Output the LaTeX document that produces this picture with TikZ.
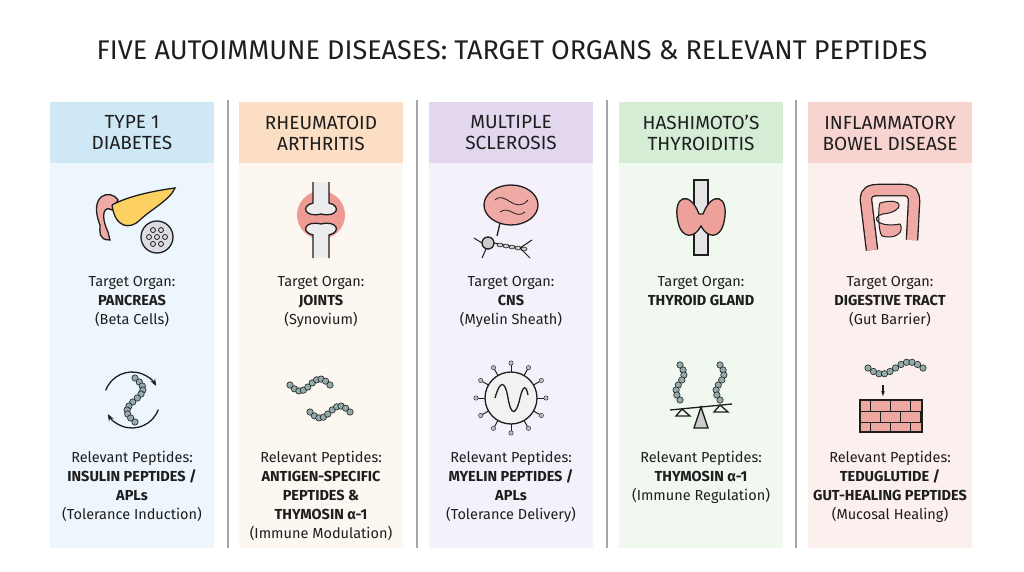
\documentclass[tikz,border=0pt]{standalone}
\usepackage{fontspec}
\setmainfont{Fira Sans}
\usetikzlibrary{arrows.meta}
\definecolor{hA}{RGB}{207,232,245}\definecolor{bA}{RGB}{237,246,252}
\definecolor{hB}{RGB}{251,222,195}\definecolor{bB}{RGB}{252,247,240}
\definecolor{hC}{RGB}{226,215,238}\definecolor{bC}{RGB}{245,241,250}
\definecolor{hD}{RGB}{213,236,213}\definecolor{bD}{RGB}{240,248,240}
\definecolor{hE}{RGB}{248,212,208}\definecolor{bE}{RGB}{252,240,238}
\definecolor{ink}{RGB}{30,30,30}
\definecolor{flesh}{RGB}{232,130,120}
\definecolor{pink}{RGB}{240,170,165}
\definecolor{bead}{RGB}{120,150,150}
\tikzset{
 hdr/.style={font=\fontsize{19}{21}\selectfont, align=center, text=ink},
 txt/.style={font=\fontsize{14.5}{19}\selectfont, align=center, text=ink},
 sep/.style={draw=gray!70, line width=1.2pt},
 ol/.style={draw=ink, line width=1.3pt},
}
\newcommand{\chain}[6]{% x y length amplitude periods n
 \foreach \i in {0,...,#6}{
  \pgfmathsetmacro{\px}{#1+#3*\i/#6}
  \pgfmathsetmacro{\py}{#2+#4*sin(360*#5*\i/#6)}
  \fill[bead!80, draw=ink, line width=0.6pt] (\px,\py) circle (3.2);
 }}
\newcommand{\vchain}[6]{% x y length amplitude periods n (vertical)
 \foreach \i in {0,...,#6}{
  \pgfmathsetmacro{\py}{#2+#3*\i/#6}
  \pgfmathsetmacro{\px}{#1+#4*sin(360*#5*\i/#6)}
  \fill[bead!80, draw=ink, line width=0.6pt] (\px,\py) circle (3.2);
 }}
\begin{document}
\begin{tikzpicture}[x=1pt,y=-1pt]
\useasboundingbox (0,0) rectangle (1024,572);
\fill[white] (0,0) rectangle (1024,572);
\node[font=\fontsize{27}{30}\selectfont, text=ink] (title) at (512,50) {FIVE AUTOIMMUNE DISEASES: TARGET ORGANS \& RELEVANT PEPTIDES};
\foreach \cx/\h/\b [count=\k] in {132/hA/bA,321/hB/bB,511/hC/bC,701/hD/bD,890/hE/bE}{
 \fill[\b] (\cx-82,102) rectangle (\cx+82,548);
 \fill[\h] (\cx-82,102) rectangle (\cx+82,163);
}
\foreach \x in {228,417,607,796}{\draw[sep] (\x,100) -- (\x,548);}
% headers
\node[hdr] (h1) at (132,133) {TYPE 1\\DIABETES};
\node[hdr] (h2) at (321,133) {RHEUMATOID\\ARTHRITIS};
\node[hdr] (h3) at (511,133) {MULTIPLE\\SCLEROSIS};
\node[hdr] (h4) at (701,133) {HASHIMOTO’S\\THYROIDITIS};
\node[hdr] (h5) at (890,133) {INFLAMMATORY\\BOWEL DISEASE};
% target organ text
\node[txt,anchor=north] (t1) at (132,273) {Target Organ:\\\textbf{PANCREAS}\\(Beta Cells)};
\node[txt,anchor=north] (t2) at (321,273) {Target Organ:\\\textbf{JOINTS}\\(Synovium)};
\node[txt,anchor=north] (t3) at (511,273) {Target Organ:\\\textbf{CNS}\\(Myelin Sheath)};
\node[txt,anchor=north] (t4) at (701,273) {Target Organ:\\\textbf{THYROID GLAND}};
\node[txt,anchor=north] (t5) at (890,273) {Target Organ:\\\textbf{DIGESTIVE TRACT}\\(Gut Barrier)};
% peptides text
\node[txt,anchor=north] (p1) at (132,448) {Relevant Peptides:\\\textbf{INSULIN PEPTIDES /}\\\textbf{APLs}\\(Tolerance Induction)};
\node[txt,anchor=north] (p2) at (321,448) {Relevant Peptides:\\\textbf{ANTIGEN-SPECIFIC}\\\textbf{PEPTIDES \&}\\\textbf{THYMOSIN α-1}\\(Immune Modulation)};
\node[txt,anchor=north] (p3) at (511,448) {Relevant Peptides:\\\textbf{MYELIN PEPTIDES /}\\\textbf{APLs}\\(Tolerance Delivery)};
\node[txt,anchor=north] (p4) at (701,448) {Relevant Peptides:\\\textbf{THYMOSIN α-1}\\(Immune Regulation)};
\node[txt,anchor=north] (p5) at (890,448) {Relevant Peptides:\\\textbf{TEDUGLUTIDE /}\\\textbf{GUT-HEALING PEPTIDES}\\(Mucosal Healing)};
% --- icon 1: pancreas
\draw[ol, fill=pink] (100,225) .. controls (88,195) and (110,188) .. (118,200) -- (112,210) .. controls (104,205) and (100,215) .. (108,232) -- (110,240) .. controls (98,240) and (100,232) .. (100,225);
\draw[ol, fill=yellow!45!orange!60] (112,205) .. controls (130,195) and (160,190) .. (175,188) .. controls (170,200) and (150,210) .. (140,220) .. controls (130,230) and (115,228) .. (112,205);
\draw[ol, fill=blue!10!gray!25] (157,237) circle (16);
\foreach \a in {0,60,...,300}{\draw[ink, line width=0.8pt] ([shift={(\a:8)}]157,237) circle (2.5);}
\draw[ink, line width=0.8pt] (157,237) circle (2.5);
% --- icon 2: joint
\fill[flesh!80] (321,215) circle (24);
\draw[ol, fill=gray!15] (313,182) -- (313,203) .. controls (300,206) and (305,218) .. (321,214) .. controls (337,218) and (342,206) .. (329,203) -- (329,182);
\draw[ol, fill=gray!15] (313,258) -- (313,235) .. controls (300,232) and (305,220) .. (321,224) .. controls (337,220) and (342,232) .. (329,235) -- (329,258);
% --- icon 3: brain + neuron
\draw[ol, fill=pink] (511,205) ellipse (27 and 20);
\draw[ink, line width=0.8pt] (495,200) .. controls (505,190) and (515,215) .. (528,200) (500,212) .. controls (510,205) and (515,220) .. (525,212);
\draw[ol] (500,223) -- (497,236);
\draw[ol, fill=gray!40] (488,243) circle (6);
\draw[ink, line width=1pt] (482,243) -- (474,238) (486,249) -- (482,258) (494,243) -- (520,248);
\foreach \i in {0,...,4}{\draw[ink, fill=gray!40, line width=0.6pt] (500+\i*6,245+\i) ellipse (3 and 2);}
\draw[ink, line width=1pt] (520,248) -- (532,240) (520,248) -- (530,258);
% --- icon 4: thyroid
\draw[ol, fill=gray!20] (694,180) rectangle (708,255);
\draw[ol, fill=flesh!75] (699,214) .. controls (690,190) and (672,195) .. (678,222) .. controls (682,240) and (695,238) .. (701,226) .. controls (707,238) and (720,240) .. (724,222) .. controls (730,195) and (712,190) .. (703,214) -- cycle;
% --- icon 5: intestine
\draw[ink, line width=1.3pt, double=pink, double distance=10pt] (872,250) -- (866,200) .. controls (866,192) and (870,190) .. (880,190) -- (902,190) .. controls (912,190) and (914,194) .. (914,202) -- (912,240);
\draw[ink, line width=1pt, fill=pink] (880,203) .. controls (905,196) and (905,212) .. (883,214) .. controls (868,218) and (880,228) .. (900,224) .. controls (905,232) and (895,240) .. (882,236) .. controls (878,232) and (878,206) .. (880,203);
% --- peptide icons
% 1: cycle
\vchain{135}{378}{44}{8}{1}{11}
\draw[ol, -{Stealth[length=7pt]}] ([shift={(200:28)}]132,400) arc (200:330:28);
\draw[ol, -{Stealth[length=7pt]}] ([shift={(20:28)}]132,400) arc (20:150:28);
% 2
\chain{290}{385}{40}{6}{1}{9}
\chain{310}{412}{40}{6}{1}{9}
% 3: virus
\draw[ol, fill=gray!10] (511,398) circle (26);
\foreach \a in {0,30,...,330}{\draw[ink, line width=1pt] ([shift={(\a:26)}]511,398) -- ([shift={(\a:33)}]511,398); \fill[gray!50, draw=ink] ([shift={(\a:35)}]511,398) circle (2.2);}
\draw[ink, line width=1.3pt] (495,398) .. controls (500,380) and (505,380) .. (508,398) .. controls (511,416) and (516,416) .. (520,398) .. controls (523,385) and (526,385) .. (528,395);
% 4: chains + scale
\vchain{680}{365}{35}{4}{1}{7}
\vchain{720}{365}{35}{4}{1}{7}
\draw[ol] (670,410) -- (732,404);
\draw[ol, fill=gray!40] (701,407) -- (694,428) -- (708,428) -- cycle;
\draw[ol] (682,409) -- (676,416) -- (690,416) -- cycle;
\draw[ol] (720,405) -- (714,412) -- (728,412) -- cycle;
% 5: bricks + chain
\chain{868}{368}{55}{6}{1}{10}
\draw[ol, -{Stealth[length=5pt]}] (883,385) -- (883,396);
\fill[flesh!70] (860,400) rectangle (922,432);
\foreach \y in {400,411,422,432}{\draw[ink, line width=0.8pt] (860,\y) -- (922,\y);}
\foreach \x in {870,890,910}{\draw[ink, line width=0.8pt] (\x,400) -- (\x,411) (\x,422) -- (\x,432);}
\foreach \x in {860,880,900,920}{\draw[ink, line width=0.8pt] (\x,411) -- (\x,422);}
\draw[ink, line width=1.2pt] (860,400) rectangle (922,432);
\end{tikzpicture}
\end{document}
